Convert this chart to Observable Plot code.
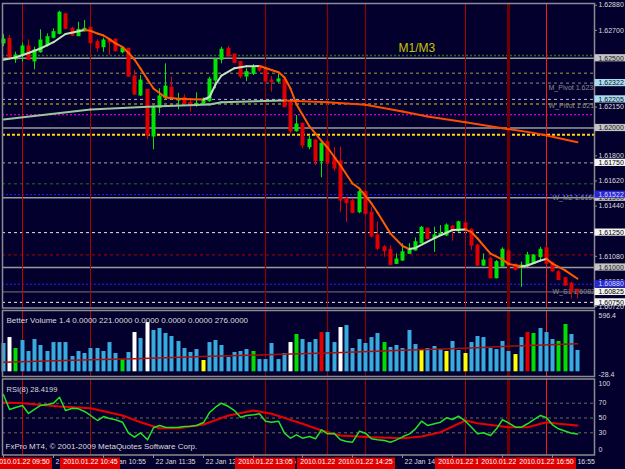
<!DOCTYPE html>
<html><head><meta charset="utf-8">
<script src="https://cdn.jsdelivr.net/npm/d3@7"></script>
<script src="https://cdn.jsdelivr.net/npm/@observablehq/plot@0.6"></script>
<style>
html,body{margin:0;padding:0;background:#03002e;}
#chart{position:relative;width:625px;height:469px;background:#03002e;overflow:hidden;}
#chart svg{position:absolute;left:0;top:0;}
</style></head><body><div id="chart"></div>
<script>
// ---------- DATA ----------
const opens = [1.62606,1.62639,1.62491,1.62520,1.62584,1.62477,1.62543,1.62591,1.62647,1.62675,
1.62814,1.62711,1.62658,1.62694,1.62718,1.62615,1.62579,1.62632,1.62632,1.62543,
1.62568,1.62369,1.62233,1.62274,1.61939,1.62145,1.62216,1.62288,1.62197,1.62214,
1.62181,1.62159,1.62173,1.62192,1.62340,1.62489,1.62568,1.62525,1.62472,1.62369,
1.62388,1.62441,1.62424,1.62340,1.62333,1.62345,1.62185,1.61977,1.62030,1.61862,
1.61910,1.61762,1.61898,1.61788,1.61760,1.61492,1.61475,1.61396,1.61540,1.61392,
1.61229,1.61145,1.61127,1.61026,1.61050,1.61098,1.61122,1.61174,1.61277,1.61205,
1.61229,1.61229,1.61294,1.61260,1.61317,1.61270,1.61157,1.61014,1.61062,1.60923,
1.61007,1.61115,1.61019,1.61002,1.61014,1.61026,1.61074,1.61138,1.61030,1.60966,
1.60923,1.60883,1.60840];
const highs = [1.62670,1.62663,1.62543,1.62608,1.62632,1.62579,1.62704,1.62675,1.62711,1.62837,
1.62823,1.62723,1.62758,1.62771,1.62723,1.62632,1.62644,1.62639,1.62639,1.62579,
1.62572,1.62412,1.62376,1.62276,1.62154,1.62281,1.62460,1.62364,1.62249,1.62238,
1.62197,1.62252,1.62216,1.62364,1.62496,1.62579,1.62584,1.62532,1.62477,1.62424,
1.62455,1.62448,1.62429,1.62369,1.62383,1.62353,1.62197,1.62089,1.62034,1.61946,
1.61915,1.61896,1.61910,1.61860,1.61862,1.61504,1.61492,1.61552,1.61547,1.61432,
1.61324,1.61157,1.61157,1.61098,1.61170,1.61170,1.61213,1.61294,1.61284,1.61289,
1.61301,1.61313,1.61301,1.61332,1.61324,1.61277,1.61165,1.61098,1.61074,1.61050,
1.61141,1.61127,1.61026,1.61038,1.61109,1.61093,1.61145,1.61145,1.61038,1.60978,
1.60930,1.60894,1.60842];
const lows = [1.62584,1.62491,1.62464,1.62472,1.62484,1.62417,1.62536,1.62579,1.62639,1.62668,
1.62704,1.62656,1.62656,1.62687,1.62604,1.62543,1.62543,1.62520,1.62543,1.62532,
1.62364,1.62233,1.62226,1.61915,1.61844,1.62102,1.62197,1.62202,1.62130,1.62168,
1.62113,1.62149,1.62166,1.62185,1.62281,1.62460,1.62508,1.62460,1.62353,1.62333,
1.62376,1.62400,1.62328,1.62257,1.62321,1.62145,1.61958,1.61970,1.61851,1.61844,
1.61731,1.61643,1.61738,1.61688,1.61396,1.61324,1.61385,1.61385,1.61372,1.61213,
1.61122,1.61074,1.61014,1.61021,1.61043,1.61093,1.61117,1.61170,1.61198,1.61109,
1.61227,1.61222,1.61188,1.61253,1.61260,1.61122,1.61007,1.61007,1.60919,1.60919,
1.61002,1.61007,1.60973,1.60858,1.61007,1.61021,1.61050,1.61014,1.60966,1.60906,
1.60863,1.60775,1.60775];
const closes = [1.62634,1.62496,1.62520,1.62584,1.62489,1.62556,1.62627,1.62651,1.62687,1.62826,
1.62711,1.62663,1.62704,1.62711,1.62608,1.62572,1.62627,1.62613,1.62551,1.62572,
1.62369,1.62240,1.62340,1.61946,1.62145,1.62226,1.62297,1.62221,1.62202,1.62173,
1.62159,1.62173,1.62197,1.62348,1.62489,1.62561,1.62513,1.62467,1.62369,1.62400,
1.62429,1.62412,1.62333,1.62331,1.62348,1.62149,1.61975,1.62025,1.61874,1.61915,
1.61762,1.61887,1.61747,1.61709,1.61480,1.61461,1.61392,1.61540,1.61385,1.61222,
1.61134,1.61117,1.61019,1.61057,1.61109,1.61134,1.61181,1.61284,1.61205,1.61229,
1.61241,1.61301,1.61265,1.61324,1.61265,1.61157,1.61014,1.61050,1.60923,1.61038,
1.61127,1.61014,1.60983,1.61014,1.61086,1.61086,1.61127,1.61026,1.60973,1.60911,
1.60871,1.60830,1.60830];

// fast / slow moving averages, read at sample bars
const fastIdx = [0,2,4,6,8,10,12,13,14,15,16,17,18,19,20,21,22,23,24,26,28,30,32,33,34,35,37,39,41,42,44,45,46,47,49,51,52,54,56,57,59,60,62,64,65,66,69,72,74,75,76,78,80,81,83,84,86,87,88,90,92];
const fastVal = [1.62489,1.62505,1.62538,1.62570,1.62615,1.62674,1.62694,1.62703,1.62697,1.62677,1.62663,1.62637,1.62606,1.62581,1.62538,1.62491,1.62427,1.62348,1.62283,1.62219,1.62209,1.62206,1.62204,1.62222,1.62312,1.62376,1.62429,1.62442,1.62444,1.62430,1.62400,1.62362,1.62283,1.62168,1.62011,1.61907,1.61860,1.61731,1.61602,1.61566,1.61459,1.61394,1.61243,1.61154,1.61132,1.61140,1.61211,1.61269,1.61272,1.61254,1.61208,1.61100,1.61057,1.61026,1.61007,1.61014,1.61050,1.61062,1.61028,1.60978,1.60919];
const slowIdx = [0,14,24,33,35,45,52,58,64,68,74,80,85,87,92];
const slowVal = [1.62061,1.62133,1.62154,1.62168,1.62185,1.62197,1.62185,1.62166,1.62118,1.62082,1.62041,1.61998,1.61965,1.61946,1.61898];

// horizontal levels
const levelPrices = [1.6252,1.625,1.62393,1.62322,1.62205,1.62172,1.62095,1.62,1.61951,1.6175,1.616,1.61522,1.615,1.6125,1.6109,1.61,1.6088,1.60825,1.6075];
const levelKinds = ["greenDot","grid","olive","pivot","pale","yellow","magenta","grid","gold","pale2","greenDash","blueDot","grid","cream","redDash","grid","blueDot","s1","cream"];
const lineLabelText = ["M_Pivot 1.62322","W_Pivot 1.62172","W_M2 1.61500","W_S1 1.60825"];
const lineLabelPrice = [1.62322,1.62172,1.615,1.60825];

// right price scale labels
const priceTicks = [1.6288,1.627,1.625,1.62322,1.62205,1.6215,1.62,1.618,1.6175,1.6162,1.61522,1.615,1.6144,1.6125,1.6108,1.61,1.609,1.6088,1.60825,1.6075,1.6072];
const priceTickKinds = ["plain","plain","gray","cyan","cyan","plain","gray","plain","white","plain","blue","gray","plain","white","plain","gray","plain","blue","white","white","plain"];

// period separators
const markerIdx = [3,14,42,52,58,74,81,87];
const markerKinds = ["red","red2","dark","dark","dark","red2","thick","bright"];
const markerTimes = ["2010.01.22 09:50","2010.01.22 10:45","2010.01.22 13:05","2010.01.22 13:55","2010.01.22 14:25","2010.01.22 15:45","2010.01.22 16:20","2010.01.22 16:50"];

// time axis
const tickIdx = [0,8,16,24,32,40,48,56,64,72,80,88];
const timeLabels = ["22 Jan 09:35","22 Jan 10:15","22 Jan 10:55","22 Jan 11:35","22 Jan 12:15","22 Jan 12:55","22 Jan 13:35","22 Jan 14:15","22 Jan 14:55","22 Jan 15:35","22 Jan 16:15","22 Jan 16:55"];

// Better Volume
const volumes = [300,363,247,332,215,342,279,215,310,310,310,162,215,194,247,247,215,310,194,130,
205,416,353,522,438,459,406,374,321,247,205,236,120,310,332,279,152,205,215,236,
215,130,130,300,130,194,310,395,342,310,342,416,416,310,469,490,247,342,300,363,
406,310,258,279,247,438,289,236,247,268,236,215,321,226,194,310,374,363,247,236,
321,215,183,363,416,406,459,416,342,321,501,395,226];
const volTypes = ["n","w","g","n","n","n","n","n","n","n","n","n","n","n","n","n","n","n","n","g",
"n","w","n","w","n","n","n","n","n","n","n","n","y","n","n","n","n","n","n","n",
"g","n","n","n","n","n","w","g","n","n","n","r","n","n","w","n","n","n","n","n",
"n","g","n","n","n","n","n","y","n","n","n","y","n","n","y","n","n","n","n","n",
"n","n","y","n","r","g","n","n","n","g","g","n","n"];
const volMAIdx = [0,14,21,32,42,53,64,74,81,92];
const volMAVal = [102,127,138,162,180,201,228,250,271,297];
const volAxis = [596.4,-28.4];

// RSI(8)
const rsi = [81.4,61.5,64.2,66.9,56.1,61.5,66.9,68.2,70,78.1,
60.1,63.2,62.4,58.8,53.4,46.6,52,49.3,47.6,44.3,
29.5,24.1,30,20.5,36.8,39.9,37.6,37.2,37.6,38.5,
38.9,39.9,43.9,57.4,64.6,70,65.5,60.1,51.1,53.4,
54.3,55.7,45.7,44.3,45.7,29.5,22.7,27.3,22.7,25,
21.9,34.1,28.6,28.6,20.5,18.2,17.3,32.2,29.5,21.9,
20.5,19.6,17.3,20.5,24.6,28.6,35.4,45.7,39.9,42.2,
44.3,50.3,48,52.4,45.7,37.6,28.6,30,26.4,35.4,
47.6,43.5,37.6,37.6,42.2,47.6,53.4,50.3,40.8,35.4,
32.2,29.5,28.4];
const rsiMAIdx = [0,3,9,14,19,22,25,28,32,36,40,43,48,51,54,59,64,67,70,74,76,81,84,87,89,92];
const rsiMAVal = [70.9,70,65.5,63.2,53.4,44.3,36.2,36.2,41.2,53.4,60.1,55.7,42.2,33.1,26.4,24.1,22.7,25,30.8,46.6,43,37.6,37.6,44.3,42.2,39.9];
const rsiLevels = [70,50,30];

// ---------- STYLE ----------
const W = 625, H = 469;
const FONT = "Liberation Sans, Arial, sans-serif";
const UP = "#00e600", DN = "#e00000";
const TXT = "#dcdcdc";
const GRID = "#8c8c8c";
const style = {background: "transparent", fontFamily: FONT, fontSize: "7px", color: TXT, overflow: "visible"};
const xOpt = {domain: [0, 92], range: [3, 577], round: true, axis: null};

const LEVEL_STYLE = {
  greenDot: {stroke: "#1f6e1f", strokeDasharray: "2,2", strokeWidth: 1.5},
  grid: {stroke: "#9a9a9a", strokeWidth: 1.5},
  olive: {stroke: "#a0a040", strokeDasharray: "3,3"},
  pivot: {stroke: "#8c8c8c", strokeDasharray: "3,3"},
  pale: {stroke: "#b8b8d8", strokeDasharray: "3,3"},
  yellow: {stroke: "#d0d020", strokeDasharray: "3,3"},
  magenta: {stroke: "#ff00ff", strokeDasharray: "2,2"},
  gold: {stroke: "#ffd800", strokeDasharray: "3,2", strokeWidth: 2},
  pale2: {stroke: "#a8a8a8", strokeDasharray: "3,3"},
  greenDash: {stroke: "#1f6e1f", strokeDasharray: "3,3"},
  blueDot: {stroke: "#2424ff", strokeDasharray: "2,2"},
  cream: {stroke: "#ececcc", strokeDasharray: "3,3"},
  redDash: {stroke: "#8b0000", strokeDasharray: "3,3", strokeWidth: 1.2},
  s1: {stroke: "#787878", strokeWidth: 1}
};
const MARKER_STYLE = {
  red: {stroke: "#cc0000", strokeWidth: 1},
  red2: {stroke: "#b00000", strokeWidth: 1},
  dark: {stroke: "#8b0000", strokeWidth: 1.2},
  thick: {stroke: "#6e0000", strokeWidth: 3},
  bright: {stroke: "#ff1a1a", strokeWidth: 1}
};
const BOX = {
  gray: {fill: "#c4c4c4", text: "#202020"},
  white: {fill: "#f4f4f4", text: "#000000"},
  cyan: {fill: "#a8dcf2", text: "#101010"},
  blue: {fill: "#2828d0", text: "#d8d8ff"}
};
const VOLCOL = {n: "#38aadd", w: "#ffffff", g: "#00e000", y: "#ffff00", r: "#e00000"};

// ---------- HELPERS ----------
function segments(ix, vals, up, down) {
  const out = [];
  for (let k = 0; k < ix.length - 1; k++) {
    const col = vals[k + 1] >= vals[k] ? up : down;
    out.push({i: ix[k], v: vals[k], s: k, col}, {i: ix[k + 1], v: vals[k + 1], s: k, col});
  }
  return out;
}
const markerMarks = () => markerIdx.map((m, k) => Plot.ruleX([m], MARKER_STYLE[markerKinds[k]]));

const candles = opens.map((o, i) => ({i, o, h: highs[i], l: lows[i], c: closes[i]}));
const ticksData = priceTicks.map((v, k) => ({v, kind: priceTickKinds[k]}));
const boxOrder = ["gray", "white", "cyan", "blue"];

// ---------- MAIN PRICE PANEL ----------
const main = Plot.plot({
  width: W, height: H,
  marginLeft: 2, marginRight: 31, marginTop: 3, marginBottom: H - 307.5,
  x: xOpt,
  y: {domain: [1.6072, 1.6288], range: [306.06, 4.74], axis: null},
  color: {type: "identity"},
  style,
  marks: [
    levelPrices.map((p, k) => Plot.ruleY([p], LEVEL_STYLE[levelKinds[k]])),
    markerMarks(),
    Plot.text(["M1/M3"], {x: [63.3], y: [1.6257], text: d => d, textAnchor: "start", fill: "#c8c400", fontSize: 12}),
    lineLabelText.map((t, k) => Plot.text([t], {y: [lineLabelPrice[k]], text: d => d, frameAnchor: "right", dx: k < 2 ? -46 : -42, dy: k === 0 ? 5 : (k === 1 ? 2 : 0), textAnchor: "start", fill: "#8c8c8c", fontSize: 7, clip: true})),
    Plot.ruleX(candles, {x: "i", y1: "l", y2: "h", stroke: d => d.c >= d.o ? UP : DN, strokeWidth: 1}),
    Plot.rect(candles, {x1: "i", x2: "i", y1: "o", y2: "c", insetLeft: -1.5, insetRight: -2.5, insetTop: -0.5, insetBottom: -0.5, fill: d => d.c >= d.o ? UP : DN}),
    Plot.line(segments(slowIdx, slowVal, "#9cc69c", "#ff4a00"), {x: "i", y: "v", z: "s", stroke: "col", strokeWidth: 2}),
    Plot.line(segments(fastIdx, fastVal, "#c4e4bc", "#ff5c00"), {x: "i", y: "v", z: "s", stroke: "col", strokeWidth: 2}),
    Plot.frame({stroke: GRID, strokeWidth: 1.5}),
    Plot.ruleY(priceTicks, {y: d => d, stroke: GRID, insetLeft: 592, insetRight: -3}),
    Plot.text(ticksData.filter(d => d.kind === "plain"), {y: "v", text: d => d.v.toFixed(5), frameAnchor: "right", dx: 4, textAnchor: "start", fill: TXT, fontSize: 7}),
    boxOrder.map(kind => {
      const rows = ticksData.filter(d => d.kind === kind).sort((a, b) => b.v - a.v);
      return rows.map(r => [
        Plot.rect([r], {y1: "v", y2: "v", insetTop: -3.6, insetBottom: -3.6, insetLeft: 592.5, insetRight: -31, fill: BOX[kind].fill}),
        Plot.text([r], {y: "v", text: d => d.v.toFixed(5), frameAnchor: "right", dx: 4, textAnchor: "start", fill: BOX[kind].text, fontSize: 7})
      ]);
    })
  ]
});

// ---------- VOLUME PANEL ----------
const volData = volumes.map((v, i) => ({i, v, t: volTypes[i]}));
const volMA = volMAIdx.map((i, k) => ({i, v: volMAVal[k]}));
const vol = Plot.plot({
  width: W, height: H,
  marginLeft: 2, marginRight: 31, marginTop: 310, marginBottom: H - 376,
  x: xOpt,
  y: {domain: [-28.4, 596.4], range: [374, 315], axis: null},
  color: {type: "identity"},
  style,
  marks: [
    markerMarks(),
    Plot.ruleX(volData, {x: "i", y1: 0, y2: "v", stroke: d => VOLCOL[d.t], strokeWidth: 4}),
    Plot.line(volMA, {x: "i", y: "v", stroke: "#a81010", strokeWidth: 1.5}),
    Plot.text(["Better Volume 1.4 0.0000 221.0000 0.0000 0.0000 0.0000 276.0000"], {text: d => d, frameAnchor: "top-left", dx: 4, dy: 7, textAnchor: "start", fill: TXT, fontSize: 8}),
    Plot.frame({stroke: GRID, strokeWidth: 1.5}),
    Plot.text(volAxis, {y: d => d, text: d => d.toFixed(1), frameAnchor: "right", dx: 4, textAnchor: "start", fill: TXT, fontSize: 7})
  ]
});

// ---------- RSI PANEL + TIME AXIS ----------
const rsiData = rsi.map((v, i) => ({i, v}));
const rsiMA = rsiMAIdx.map((i, k) => ({i, v: rsiMAVal[k]}));
const rsiPlot = Plot.plot({
  width: W, height: H,
  marginLeft: 2, marginRight: 31, marginTop: 378.5, marginBottom: H - 454.5,
  x: xOpt,
  y: {domain: [0, 100], range: [454.5, 380.5], axis: null},
  color: {type: "identity"},
  style,
  marks: [
    Plot.ruleY(rsiLevels, {y: d => d, stroke: "#6c6c58", strokeDasharray: "3,3"}),
    markerMarks(),
    Plot.line(rsiMA, {x: "i", y: "v", stroke: "#e80000", strokeWidth: 2}),
    Plot.line(rsiData, {x: "i", y: "v", stroke: "#22e422", strokeWidth: 1.5}),
    Plot.text(["RSI(8) 28.4199"], {text: d => d, frameAnchor: "top-left", dx: 4, dy: 8, textAnchor: "start", fill: TXT, fontSize: 7.5}),
    Plot.text(["FxPro MT4, © 2001-2009 MetaQuotes Software Corp."], {text: d => d, frameAnchor: "bottom-left", dx: 3, dy: -6, textAnchor: "start", fill: TXT, fontSize: 8}),
    Plot.frame({stroke: GRID, strokeWidth: 1.5}),
    Plot.text([70, 50, 30], {y: d => d, text: d => String(d), frameAnchor: "right", dx: 4, textAnchor: "start", fill: TXT, fontSize: 7}),
    Plot.text([100], {y: d => d, text: d => String(d), frameAnchor: "right", dx: 4, dy: 2.5, textAnchor: "start", fill: TXT, fontSize: 7}),
    Plot.text([0], {y: d => d, text: d => String(d), frameAnchor: "right", dx: 4, dy: -5.5, textAnchor: "start", fill: TXT, fontSize: 7}),
    Plot.ruleX(tickIdx, {x: d => d, stroke: GRID, insetTop: 76, insetBottom: -3.5}),
    Plot.text(tickIdx, {x: d => d, text: (d, k) => timeLabels[k], frameAnchor: "bottom", dy: 9, dx: 2, textAnchor: "start", fill: TXT, fontSize: 7}),
    markerIdx.map((m, k) => [
      Plot.rect([m], {x1: d => d, x2: d => d, insetLeft: -30, insetRight: -30, insetTop: 79, insetBottom: -14.5, fill: "#e00000"}),
      Plot.text([m], {x: d => d, text: [markerTimes[k]], frameAnchor: "bottom", dy: 9, fill: "#ffffff", fontSize: 7})
    ])
  ]
});

const root = document.getElementById("chart");
root.appendChild(main);
root.appendChild(vol);
root.appendChild(rsiPlot);
</script>
</body></html>
